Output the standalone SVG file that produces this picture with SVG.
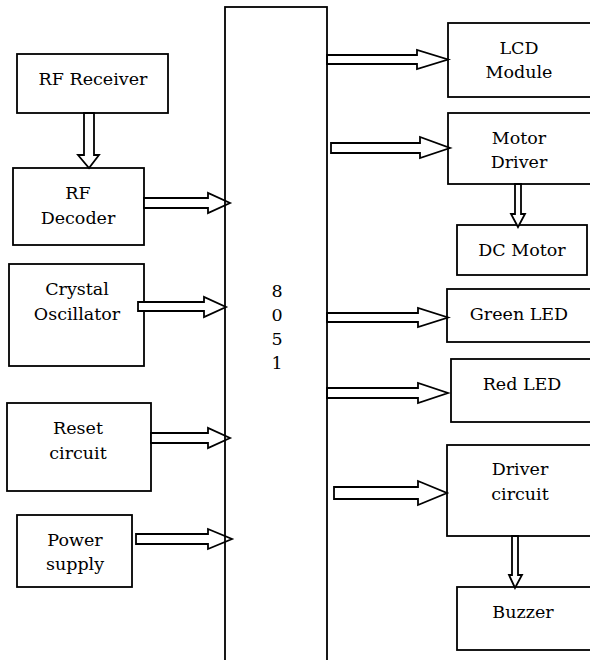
<svg xmlns="http://www.w3.org/2000/svg" width="590" height="660" viewBox="0 0 590 660">
<style>
.box{fill:none;stroke:#000;stroke-width:1.8}
.arr{fill:#fff;stroke:#000;stroke-width:1.8;stroke-linejoin:miter}
text{font-family:'DejaVu Serif','Liberation Serif',serif;font-size:17.5px;fill:#000;text-anchor:middle}
</style>
<rect width="590" height="660" fill="#fff"/>
<g id="rf-receiver"><rect class="box" x="17" y="54" width="151" height="59"/><text x="93" y="85">RF Receiver</text></g>
<g id="rf-decoder"><rect class="box" x="13" y="168" width="131" height="77"/><text x="78" y="199">RF</text><text x="78" y="224">Decoder</text></g>
<g id="crystal"><rect class="box" x="9" y="264" width="135" height="102"/><text x="77" y="295">Crystal</text><text x="77" y="320">Oscillator</text></g>
<g id="reset"><rect class="box" x="7" y="403" width="144" height="88"/><text x="78" y="434">Reset</text><text x="78" y="459">circuit</text></g>
<g id="power"><rect class="box" x="17" y="515" width="115" height="72"/><text x="75" y="546">Power</text><text x="75" y="570">supply</text></g>
<g id="lcd"><rect class="box" x="448" y="23" width="160" height="74"/><text x="519" y="54">LCD</text><text x="519" y="78">Module</text></g>
<g id="motor-driver"><rect class="box" x="448" y="113" width="160" height="71"/><text x="519" y="144">Motor</text><text x="519" y="168">Driver</text></g>
<g id="dc-motor"><rect class="box" x="457" y="225" width="130" height="50"/><text x="522" y="256">DC Motor</text></g>
<g id="green-led"><rect class="box" x="447" y="289" width="160" height="53"/><text x="519" y="320">Green LED</text></g>
<g id="red-led"><rect class="box" x="451" y="359" width="160" height="63"/><text x="522" y="390">Red LED</text></g>
<g id="driver-circuit"><rect class="box" x="447" y="445" width="160" height="91"/><text x="520" y="475">Driver</text><text x="520" y="500">circuit</text></g>
<g id="buzzer"><rect class="box" x="457" y="587" width="160" height="63"/><text x="523" y="618">Buzzer</text></g>
<g id="connectors">
<polygon class="arr" points="84,113 94,113 94,155 99,155 89,168 78,155 84,155"/>
<polygon class="arr" points="144,198 208,198 208,193 230,203 208,213 208,208 144,208"/>
<polygon class="arr" points="138,302 204,302 204,297 226,307 204,317 204,311 138,311"/>
<polygon class="arr" points="151,433 208,433 208,428 230,438 208,448 208,443 151,443"/>
<polygon class="arr" points="136,534 208,534 208,529 232,539 208,549 208,544 136,544"/>
<polygon class="arr" points="327,55 417,55 417,50 448,59.5 417,69 417,64 327,64"/>
<polygon class="arr" points="331,143 420,143 420,137 450,148 420,158 420,153 331,153"/>
<polygon class="arr" points="515,184 521,184 521,214 525,214 518,227 511,214 515,214"/>
<polygon class="arr" points="327,313 418,313 418,308 448,317.5 418,327 418,322 327,322"/>
<polygon class="arr" points="327,388 418,388 418,383 448,393 418,403 418,398 327,398"/>
<polygon class="arr" points="334,487 418,487 418,481 447,493 418,505 418,499 334,499"/>
<polygon class="arr" points="512,536 518,536 518,575 522,575 515,588 509,575 512,575"/>
</g>
<g id="mcu-8051"><rect class="box" x="225" y="7" width="102" height="670"/><text x="277" y="297">8</text><text x="277" y="321">0</text><text x="277" y="345">5</text><text x="277" y="369">1</text></g>
</svg>
